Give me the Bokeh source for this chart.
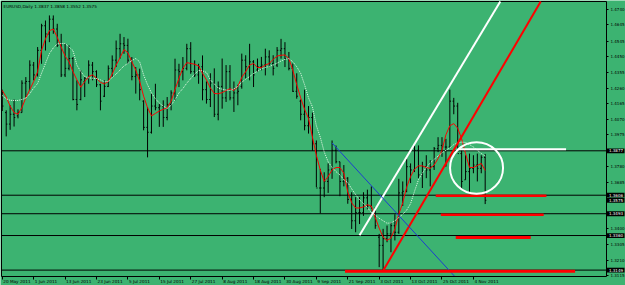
from bokeh.plotting import figure
from bokeh.models import (ColumnDataSource, FixedTicker, Range1d, LinearAxis,
                          NumeralTickFormatter)
from bokeh.embed import file_html
from bokeh.resources import INLINE
from bokeh.core.properties import value

# ---------------- data ----------------
bar_open = [
    1.4230, 1.4110, 1.4040, 1.4100, 1.4090, 1.4110, 1.4290, 1.4300, 1.4400, 1.4340,
    1.4490, 1.4640, 1.4590, 1.4680, 1.4620, 1.4520, 1.4340, 1.4380, 1.4440, 1.4190,
    1.4190, 1.4300, 1.4320, 1.4400, 1.4360, 1.4280, 1.4210, 1.4270, 1.4380, 1.4430,
    1.4500, 1.4530, 1.4520, 1.4430, 1.4330, 1.4340, 1.4180, 1.4020, 1.3990, 1.4150,
    1.4140, 1.4150, 1.4080, 1.4160, 1.4230, 1.4370, 1.4360, 1.4380, 1.4500, 1.4360,
    1.4340, 1.4390, 1.4250, 1.4190, 1.4290, 1.4100, 1.4270, 1.4200, 1.4360, 1.4200,
    1.4230, 1.4270, 1.4430, 1.4390, 1.4420, 1.4370, 1.4390, 1.4400, 1.4450, 1.4410,
    1.4400, 1.4490, 1.4500, 1.4440, 1.4380, 1.4240, 1.4180, 1.4100, 1.4030, 1.4080,
    1.3920, 1.3650, 1.3650, 1.3690, 1.3760, 1.3880, 1.3810, 1.3690, 1.3710, 1.3580,
    1.3450, 1.3500, 1.3500, 1.3590, 1.3540, 1.3510, 1.3350, 1.3300, 1.3340, 1.3370,
    1.3420, 1.3380, 1.3620, 1.3630, 1.3780, 1.3760, 1.3880, 1.3730, 1.3780, 1.3760,
    1.3780, 1.3890, 1.3910, 1.3900, 1.3900, 1.4180, 1.4150, 1.3860, 1.3700, 1.3750,
    1.3770, 1.3790, 1.3770, 1.3837]
bar_high = [
    1.4250, 1.4124, 1.4155, 1.4190, 1.4130, 1.4307, 1.4327, 1.4429, 1.4419, 1.4510,
    1.4652, 1.4672, 1.4703, 1.4703, 1.4652, 1.4591, 1.4530, 1.4520, 1.4449, 1.4307,
    1.4368, 1.4327, 1.4429, 1.4419, 1.4368, 1.4286, 1.4307, 1.4398, 1.4459, 1.4550,
    1.4591, 1.4571, 1.4561, 1.4449, 1.4388, 1.4378, 1.4185, 1.4144, 1.4226, 1.4286,
    1.4165, 1.4185, 1.4205, 1.4246, 1.4439, 1.4408, 1.4449, 1.4530, 1.4540, 1.4429,
    1.4408, 1.4459, 1.4300, 1.4350, 1.4380, 1.4300, 1.4440, 1.4400, 1.4400, 1.4300,
    1.4280, 1.4470, 1.4460, 1.4530, 1.4430, 1.4440, 1.4450, 1.4500, 1.4490, 1.4460,
    1.4510, 1.4560, 1.4540, 1.4480, 1.4410, 1.4350, 1.4190, 1.4250, 1.4150, 1.4110,
    1.3940, 1.3767, 1.3746, 1.3800, 1.3940, 1.3909, 1.3810, 1.3790, 1.3716, 1.3624,
    1.3594, 1.3594, 1.3624, 1.3640, 1.3660, 1.3533, 1.3370, 1.3401, 1.3421, 1.3441,
    1.3490, 1.3706, 1.3690, 1.3828, 1.3800, 1.3909, 1.3910, 1.3810, 1.3850, 1.3820,
    1.3900, 1.3960, 1.3960, 1.3950, 1.4250, 1.4200, 1.4170, 1.3889, 1.3850, 1.3860,
    1.3850, 1.3860, 1.3850, 1.3858]
bar_low = [
    1.4120, 1.3965, 1.4005, 1.4025, 1.4075, 1.4110, 1.4205, 1.4246, 1.4307, 1.4330,
    1.4408, 1.4489, 1.4540, 1.4591, 1.4510, 1.4327, 1.4327, 1.4368, 1.4185, 1.4124,
    1.4185, 1.4205, 1.4286, 1.4307, 1.4266, 1.4124, 1.4205, 1.4266, 1.4327, 1.4388,
    1.4439, 1.4469, 1.4408, 1.4307, 1.4226, 1.4185, 1.4002, 1.3837, 1.3982, 1.4124,
    1.4023, 1.4023, 1.4063, 1.4124, 1.4185, 1.4266, 1.4307, 1.4368, 1.4347, 1.4327,
    1.4286, 1.4185, 1.4165, 1.4144, 1.4083, 1.4063, 1.4134, 1.4175, 1.4185, 1.4114,
    1.4155, 1.4256, 1.4317, 1.4307, 1.4266, 1.4358, 1.4368, 1.4337, 1.4388, 1.4337,
    1.4388, 1.4439, 1.4388, 1.4368, 1.4236, 1.4195, 1.4063, 1.4002, 1.3982, 1.3877,
    1.3655, 1.3495, 1.3594, 1.3620, 1.3706, 1.3800, 1.3600, 1.3660, 1.3554, 1.3400,
    1.3380, 1.3430, 1.3480, 1.3520, 1.3520, 1.3401, 1.3167, 1.3147, 1.3319, 1.3258,
    1.3330, 1.3370, 1.3540, 1.3624, 1.3680, 1.3747, 1.3710, 1.3650, 1.3710, 1.3660,
    1.3760, 1.3869, 1.3840, 1.3780, 1.3900, 1.4100, 1.3880, 1.3645, 1.3700, 1.3620,
    1.3740, 1.3690, 1.3740, 1.3552]
bar_close = [
    1.4150, 1.4040, 1.4100, 1.4080, 1.4110, 1.4290, 1.4300, 1.4400, 1.4340, 1.4490,
    1.4640, 1.4590, 1.4680, 1.4620, 1.4520, 1.4340, 1.4380, 1.4440, 1.4190, 1.4160,
    1.4310, 1.4320, 1.4400, 1.4360, 1.4280, 1.4180, 1.4270, 1.4380, 1.4430, 1.4500,
    1.4530, 1.4520, 1.4430, 1.4330, 1.4340, 1.4250, 1.4020, 1.3990, 1.4150, 1.4140,
    1.4150, 1.4080, 1.4160, 1.4230, 1.4370, 1.4360, 1.4380, 1.4500, 1.4360, 1.4340,
    1.4390, 1.4250, 1.4190, 1.4290, 1.4100, 1.4270, 1.4200, 1.4360, 1.4200, 1.4230,
    1.4240, 1.4430, 1.4390, 1.4420, 1.4340, 1.4390, 1.4400, 1.4450, 1.4410, 1.4380,
    1.4490, 1.4500, 1.4440, 1.4380, 1.4240, 1.4210, 1.4100, 1.4030, 1.4080, 1.3920,
    1.3650, 1.3650, 1.3690, 1.3760, 1.3880, 1.3810, 1.3690, 1.3710, 1.3580, 1.3450,
    1.3500, 1.3500, 1.3590, 1.3540, 1.3510, 1.3420, 1.3300, 1.3340, 1.3370, 1.3420,
    1.3380, 1.3620, 1.3630, 1.3780, 1.3760, 1.3880, 1.3730, 1.3780, 1.3760, 1.3780,
    1.3890, 1.3910, 1.3900, 1.3900, 1.4180, 1.4150, 1.3860, 1.3690, 1.3750, 1.3770,
    1.3790, 1.3770, 1.3837, 1.3575]

ma_red = [
    1.4245, 1.4205, 1.4150, 1.4110, 1.4100, 1.4141, 1.4200, 1.4250, 1.4300, 1.4360,
    1.4490, 1.4560, 1.4610, 1.4620, 1.4570, 1.4510, 1.4455, 1.4420, 1.4360, 1.4310,
    1.4265, 1.4300, 1.4330, 1.4340, 1.4320, 1.4295, 1.4285, 1.4300, 1.4345, 1.4400,
    1.4445, 1.4495, 1.4475, 1.4420, 1.4370, 1.4300, 1.4210, 1.4140, 1.4090, 1.4105,
    1.4120, 1.4130, 1.4140, 1.4180, 1.4250, 1.4320, 1.4380, 1.4415, 1.4410, 1.4405,
    1.4395, 1.4350, 1.4310, 1.4260, 1.4227, 1.4225, 1.4232, 1.4245, 1.4256, 1.4245,
    1.4270, 1.4325, 1.4360, 1.4400, 1.4410, 1.4385, 1.4385, 1.4400, 1.4410, 1.4435,
    1.4455, 1.4460, 1.4462, 1.4440, 1.4370, 1.4280, 1.4200, 1.4130, 1.4075, 1.3960,
    1.3850, 1.3760, 1.3690, 1.3720, 1.3760, 1.3775, 1.3775, 1.3740, 1.3625, 1.3560,
    1.3528, 1.3528, 1.3535, 1.3548, 1.3540, 1.3470, 1.3405, 1.3350, 1.3330, 1.3345,
    1.3400, 1.3490, 1.3560, 1.3655, 1.3720, 1.3765, 1.3785, 1.3785, 1.3775, 1.3770,
    1.3790, 1.3830, 1.3880, 1.3975, 1.4030, 1.4043, 1.4015, 1.3950, 1.3860, 1.3775,
    1.3775, 1.3787, 1.3800, 1.3757]
ma_white = [
    1.4214, 1.4195, 1.4185, 1.4184, 1.4184, 1.4190, 1.4198, 1.4225, 1.4260, 1.4288,
    1.4350, 1.4410, 1.4470, 1.4505, 1.4530, 1.4532, 1.4532, 1.4510, 1.4489, 1.4400,
    1.4360, 1.4330, 1.4322, 1.4320, 1.4318, 1.4310, 1.4298, 1.4300, 1.4325, 1.4345,
    1.4370, 1.4395, 1.4410, 1.4428, 1.4440, 1.4420, 1.4340, 1.4280, 1.4230, 1.4195,
    1.4168, 1.4150, 1.4135, 1.4155, 1.4190, 1.4230, 1.4257, 1.4290, 1.4318, 1.4345,
    1.4367, 1.4365, 1.4355, 1.4310, 1.4285, 1.4260, 1.4253, 1.4248, 1.4245, 1.4255,
    1.4270, 1.4295, 1.4315, 1.4330, 1.4349, 1.4362, 1.4377, 1.4385, 1.4392, 1.4400,
    1.4412, 1.4425, 1.4435, 1.4440, 1.4420, 1.4390, 1.4350, 1.4280, 1.4200, 1.4145,
    1.4030, 1.3960, 1.3870, 1.3810, 1.3775, 1.3750, 1.3730, 1.3700, 1.3683, 1.3645,
    1.3610, 1.3578, 1.3555, 1.3531, 1.3500, 1.3485, 1.3465, 1.3450, 1.3435, 1.3437,
    1.3450, 1.3470, 1.3490, 1.3515, 1.3555, 1.3630, 1.3700, 1.3740, 1.3775, 1.3803,
    1.3825, 1.3845, 1.3865, 1.3880, 1.3895, 1.3915, 1.3925, 1.3930, 1.3928, 1.3915,
    1.3900, 1.3880, 1.3861, 1.3845]

date_tick_idx = [0, 8, 16, 24, 32, 40, 48, 56, 64, 72, 80, 88, 96, 104, 112, 120]
date_labels = ["20 May 2011", "1 Jun 2011", "13 Jun 2011", "23 Jun 2011", "5 Jul 2011",
               "15 Jul 2011", "27 Jul 2011", "8 Aug 2011", "18 Aug 2011", "30 Aug 2011",
               "9 Sep 2011", "21 Sep 2011", "3 Oct 2011", "13 Oct 2011", "25 Oct 2011",
               "4 Nov 2011"]
price_ticks = [1.4740, 1.4645, 1.4545, 1.4450, 1.4355, 1.4260, 1.4165, 1.4070, 1.3975,
               1.3780, 1.3685, 1.3400, 1.3305, 1.3210, 1.3115]
hline_levels = [1.3877, 1.3606, 1.3493, 1.3360, 1.3149]
marked_levels = [1.3877, 1.3606, 1.3575, 1.3493, 1.3360, 1.3149]

# trend lines (two anchor points each, drawn as rays)
trend_x0 = [91, 97, 84]
trend_y0 = [1.3362, 1.3145, 1.3925]
trend_x1 = [127, 137, 114.3]
trend_y1 = [1.4794, 1.4782, 1.3135]
trend_color = ["white", "#FF0000", "#1E3CD0"]
trend_width = [2, 2, 1]

# red horizontal segments
red_seg_x0 = [110.4, 111.7, 115.5, 87.3]
red_seg_x1 = [138.6, 137.9, 134.6, 145.9]
red_seg_y = [1.3602, 1.3487, 1.3348, 1.3142]
red_seg_w = [2.5, 2.5, 3, 3]

# white circle and white horizontal line
circle_x = [120.8]
circle_y = [1.3772]
circle_w = [13.5]
circle_h = [0.0315]
white_seg_x0 = [116.0]
white_seg_x1 = [143.6]
white_seg_y = [1.3887]

title_text = "EURUSD,Daily  1.3837 1.3858 1.3552 1.3575"

# ---------------- layout in pixels ----------------
W, H = 625, 285
PX_L, PX_R, PX_T, PX_B = 1, 606, 1, 276      # chart area inside the canvas
X0, X1 = -0.2, 153.9                          # bar-index range of chart area
Y0, Y1 = 1.3110, 1.4788                       # price range of chart area
kx = (PX_R - PX_L) / (X1 - X0)
ky = (PX_B - PX_T) / (Y1 - Y0)
XL, XR = X0 - PX_L / kx, X1 + (W - PX_R) / kx
YB, YT = Y0 - (H - PX_B) / ky, Y1 + PX_T / ky

BG = "#3CB371"
FONT = "DejaVu Sans"

p = figure(width=W, height=H, output_backend="svg", toolbar_location=None,
           x_range=Range1d(XL, XR), y_range=Range1d(YB, YT),
           x_axis_location=None, y_axis_location=None,
           min_border=0, min_border_left=0, min_border_right=0,
           min_border_top=0, min_border_bottom=0)
p.background_fill_color = BG
p.border_fill_color = BG
p.outline_line_color = None
p.grid.visible = False

# price axis (right edge of chart area)
ya = LinearAxis(fixed_location=X1, bounds=(Y0, Y1))
ya.ticker = FixedTicker(ticks=price_ticks)
ya.formatter = NumeralTickFormatter(format="0.0000")
ya.major_label_text_font_size = "4px"
ya.major_label_text_font = FONT
ya.major_label_text_color = "black"
ya.major_tick_out = 2
ya.major_tick_in = 0
ya.minor_tick_line_color = None
ya.major_label_standoff = 2
ya.axis_line_color = "black"
p.add_layout(ya, "right")

# time axis (bottom edge of chart area): ticks only, labels drawn as text
xa = LinearAxis(fixed_location=Y0, bounds=(X0, X1))
xa.ticker = FixedTicker(ticks=date_tick_idx)
xa.major_label_text_font_size = "1px"
xa.major_label_text_color = None
xa.major_tick_out = 3
xa.major_tick_in = 0
xa.minor_tick_line_color = None
xa.axis_line_color = "black"
p.add_layout(xa, "below")

# chart-area border (left and top edges)
p.segment(x0=[X0, X0], y0=[Y0, Y1], x1=[X0, X1], y1=[Y1, Y1],
          line_color="black", line_width=1)

# horizontal level lines
p.segment(x0=[X0] * len(hline_levels), y0=hline_levels,
          x1=[X1] * len(hline_levels), y1=hline_levels,
          line_color="black", line_width=1)

# OHLC bars
idx = list(range(len(bar_open)))
src = ColumnDataSource(dict(
    x=idx, xl=[i - 0.3 for i in idx], xr=[i + 0.3 for i in idx],
    o=bar_open, h=bar_high, l=bar_low, c=bar_close))
p.segment(x0="x", y0="l", x1="x", y1="h", source=src, line_color="black", line_width=1)
p.segment(x0="xl", y0="o", x1="x", y1="o", source=src, line_color="black", line_width=1)
p.segment(x0="x", y0="c", x1="xr", y1="c", source=src, line_color="black", line_width=1)

# moving averages
p.line(idx, ma_red, line_color="#FF0000", line_width=1)
p.line(idx, ma_white, line_color="#E8F8E8", line_width=1, line_dash="1 1")

# trend lines as rays, cut at the chart-area edge
ex, ey = [], []
for a, b, c, d in zip(trend_x0, trend_y0, trend_x1, trend_y1):
    s = (d - b) / (c - a)
    yy = Y1 if s > 0 else Y0
    xx = a + (yy - b) / s
    if xx > X1:
        xx, yy = X1, b + s * (X1 - a)
    ex.append(xx)
    ey.append(yy)
p.segment(x0=trend_x0, y0=trend_y0, x1=ex, y1=ey,
          line_color=trend_color, line_width=trend_width)

# red horizontal segments
p.segment(x0=red_seg_x0, y0=red_seg_y, x1=red_seg_x1, y1=red_seg_y,
          line_color="#FF0000", line_width=red_seg_w)

# white circle and horizontal
p.ellipse(x=circle_x, y=circle_y, width=circle_w, height=circle_h,
          fill_color=None, line_color="white", line_width=2)
p.segment(x0=white_seg_x0, y0=white_seg_y, x1=white_seg_x1, y1=white_seg_y,
          line_color="white", line_width=2)

# date labels, left aligned at their ticks below the chart area
p.text(x=[t + 1.0 / kx for t in date_tick_idx], y=[Y0 - 5.0 / ky] * len(date_tick_idx),
       text=date_labels, text_align="left", text_baseline="middle",
       text_font_size="4.2px", text_font=value(FONT), text_color="black")

# highlighted price labels on the axis
n = len(marked_levels)
p.quad(left=[X1] * n, right=[XR - 1.0 / kx] * n,
       bottom=[v - 2.4 / ky for v in marked_levels], top=[v + 2.4 / ky for v in marked_levels],
       fill_color="black", line_color=None)
p.text(x=[X1 + 2.5 / kx] * n, y=marked_levels, text=[f"{v:.4f}" for v in marked_levels],
       text_align="left", text_baseline="middle",
       text_font_size="4px", text_font=value(FONT), text_color="white")

# title
p.text(x=[X0 + 2.0 / kx], y=[Y1 - 5.0 / ky], text=[title_text],
       text_align="left", text_baseline="middle",
       text_font_size="4.2px", text_font=value(FONT), text_color="black")

open("out.html", "w").write(file_html(p, INLINE))
